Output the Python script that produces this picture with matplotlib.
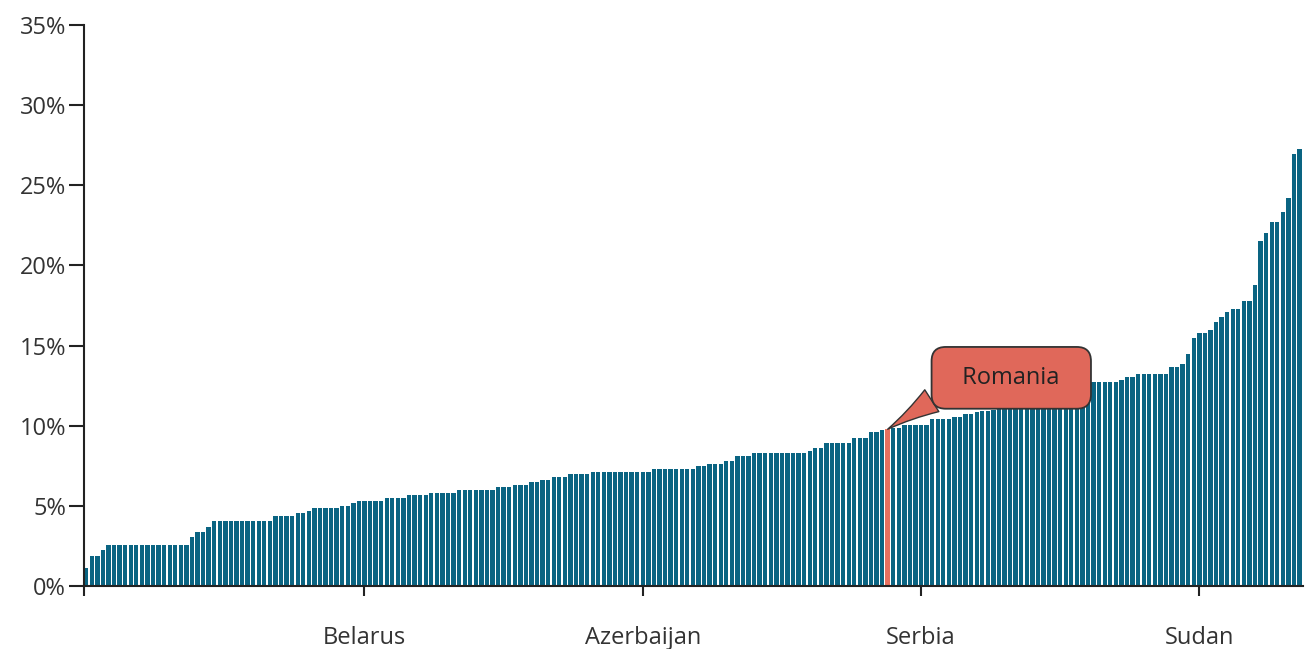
import numpy as np
import matplotlib
matplotlib.use("Agg")
import matplotlib.pyplot as plt

# share values (%) sorted ascending, one bar per country
values = [
    1.1, 1.9, 1.9, 2.25, 2.55, 2.55, 2.55, 2.55, 2.55, 2.55,
    2.55, 2.55, 2.55, 2.55, 2.55, 2.55, 2.55, 2.55, 2.55, 3.05,
    3.37, 3.37, 3.7, 4.05, 4.05, 4.05, 4.05, 4.05, 4.05, 4.05,
    4.05, 4.05, 4.05, 4.05, 4.37, 4.37, 4.37, 4.37, 4.53, 4.53,
    4.7, 4.85, 4.85, 4.85, 4.85, 4.85, 5.0, 5.0, 5.18, 5.33,
    5.33, 5.33, 5.33, 5.33, 5.49, 5.49, 5.49, 5.49, 5.66, 5.66,
    5.66, 5.66, 5.82, 5.82, 5.82, 5.82, 5.82, 5.99, 5.99, 5.99,
    5.99, 5.99, 5.99, 5.99, 6.15, 6.15, 6.15, 6.3, 6.3, 6.3,
    6.47, 6.47, 6.63, 6.63, 6.8, 6.8, 6.8, 6.97, 6.97, 6.97,
    6.97, 7.13, 7.13, 7.13, 7.13, 7.13, 7.13, 7.13, 7.13, 7.13,
    7.13, 7.13, 7.3, 7.3, 7.3, 7.3, 7.3, 7.3, 7.3, 7.3,
    7.47, 7.47, 7.63, 7.63, 7.63, 7.8, 7.8, 8.12, 8.12, 8.12,
    8.29, 8.29, 8.29, 8.29, 8.29, 8.29, 8.29, 8.29, 8.29, 8.29,
    8.44, 8.61, 8.61, 8.94, 8.94, 8.94, 8.94, 8.94, 9.25, 9.25,
    9.25, 9.59, 9.59, 9.73, 9.78, 9.88, 9.88, 10.07, 10.07, 10.07,
    10.07, 10.07, 10.4, 10.4, 10.4, 10.4, 10.56, 10.56, 10.7, 10.7,
    10.85, 10.9, 10.9, 11.0, 11.1, 11.1, 11.2, 11.3, 11.4, 11.5,
    11.6, 11.7, 11.8, 11.9, 12.0, 12.1, 12.2, 12.3, 12.4, 12.5,
    12.6, 12.7, 12.7, 12.7, 12.7, 12.7, 12.87, 13.04, 13.04, 13.2,
    13.2, 13.2, 13.2, 13.2, 13.2, 13.68, 13.68, 13.85, 14.5, 15.5,
    15.8, 15.8, 15.97, 16.47, 16.76, 17.1, 17.28, 17.28, 17.78, 17.78,
    18.78, 21.55, 22.04, 22.7, 22.7, 23.35, 24.18, 26.95, 27.26,
]
tick_index = [50, 100, 150, 200]
tick_names = ["Belarus", "Azerbaijan", "Serbia", "Sudan"]
highlight_index = 144
highlight_name = "Romania"

bar_color = "#0a6482"
hi_color = "#e8705f"
bw = 0.78

plt.rcParams['font.family'] = ['Open Sans', 'DejaVu Sans']
fig = plt.figure(figsize=(13.05, 6.49), dpi=100)
ax = fig.add_axes([0.0644, 0.0971, 0.934, 0.8644])

n = len(values)
x = np.arange(n)
colors = [hi_color if i == highlight_index else bar_color for i in range(n)]
ax.bar(x, values, width=bw, align='edge', color=colors, linewidth=0)

ax.set_xlim(0, n)
ax.set_ylim(0, 35)
ax.set_yticks(range(0, 36, 5))
ax.set_yticklabels([f"{v}%" for v in range(0, 36, 5)])
ax.set_xticks([0] + [i + bw / 2 for i in tick_index])
ax.set_xticklabels([""] + tick_names)

for s in ['top', 'right']:
    ax.spines[s].set_visible(False)
for s in ['left', 'bottom']:
    ax.spines[s].set_color('#222222')
    ax.spines[s].set_linewidth(1.5)
ax.tick_params(axis='y', length=11, width=1.5, color='#222222', labelsize=17,
               labelcolor='#333333', pad=2)
ax.tick_params(axis='x', length=7, width=1.5, color='#222222', labelsize=17,
               labelcolor='#333333', pad=22)

## callout
ax.annotate("  " + highlight_name + "  ",
            xy=(highlight_index + bw / 2, values[highlight_index]),
            xytext=(89, 37), textcoords='offset points',
            ha='center', va='center', fontsize=17, color='#222222',
            bbox=dict(boxstyle="round,pad=0.8,rounding_size=0.6",
                      fc="#e0685a", ec="#333333", lw=1.3),
            arrowprops=dict(arrowstyle="wedge,tail_width=1.1,shrink_factor=0.4",
                            fc="#e0685a", ec="#333333", lw=1.0,
                            relpos=(0.04, 0.18), shrinkA=0, shrinkB=0))

plt.savefig("out.png", dpi=100)
